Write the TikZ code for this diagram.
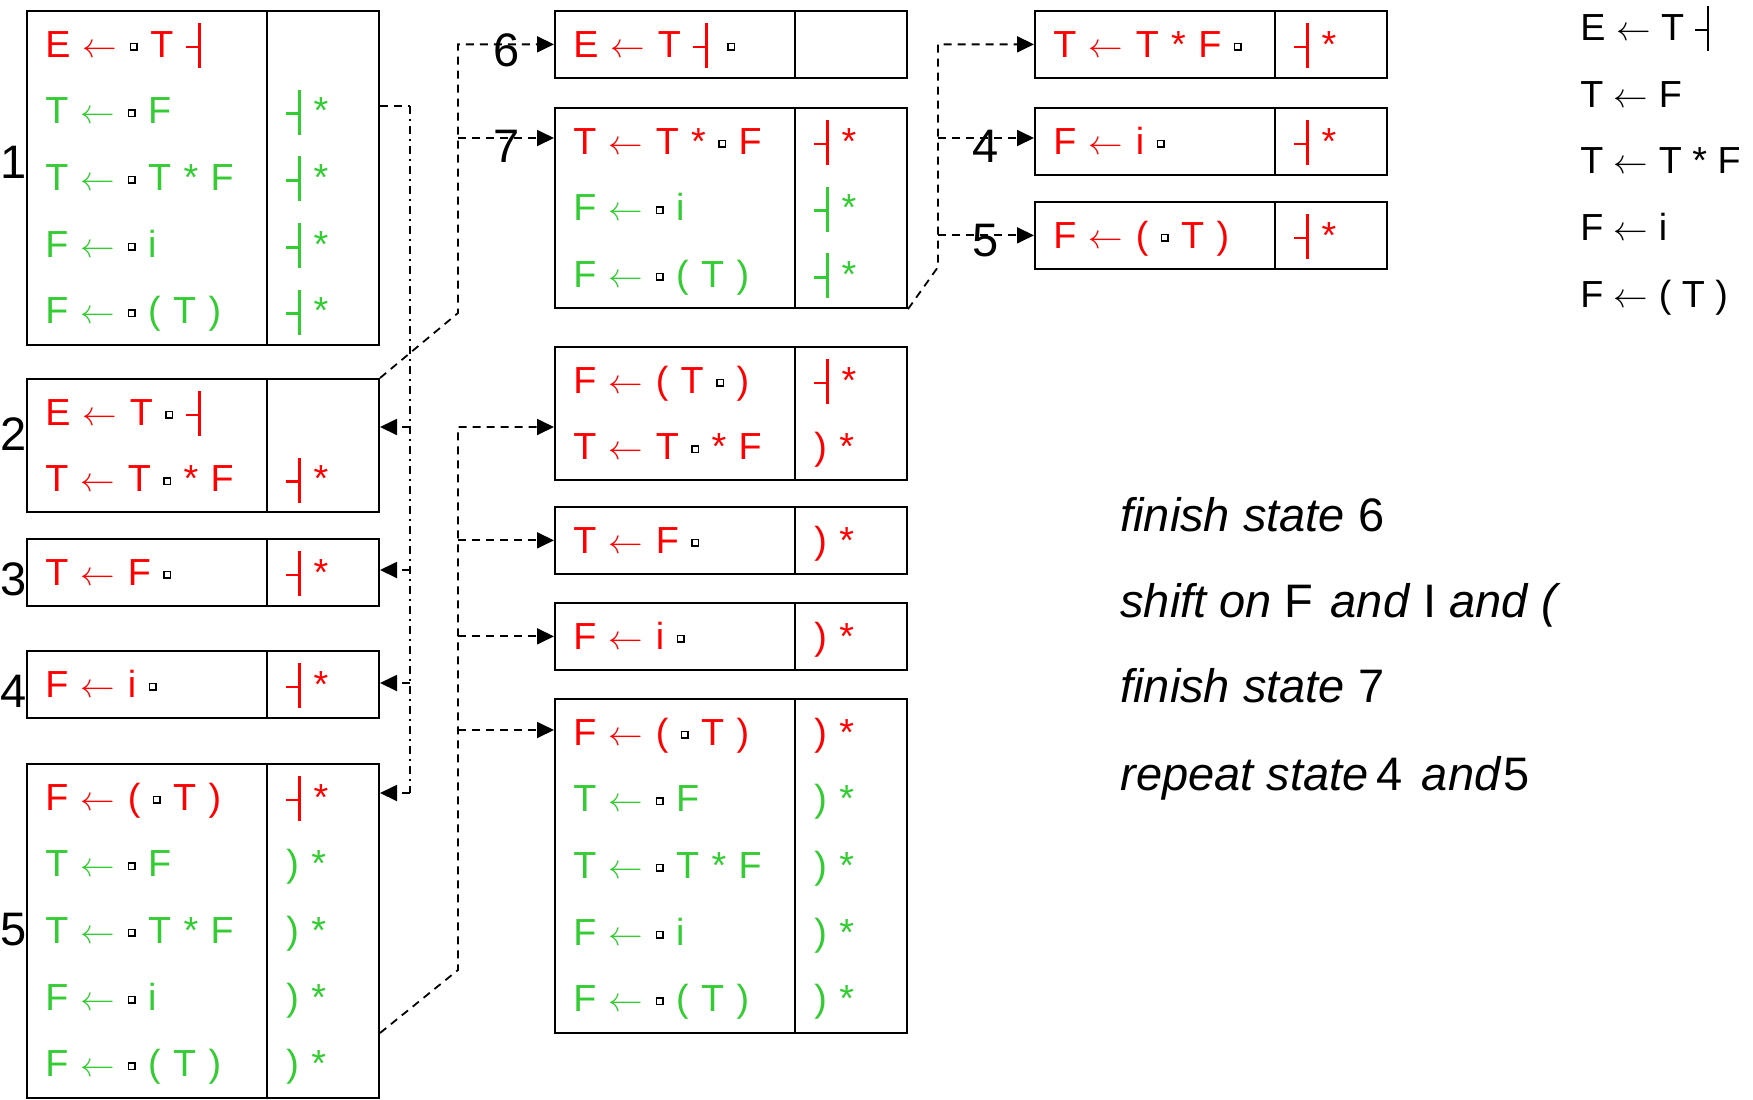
\documentclass[tikz,border=0pt]{standalone}
\usepackage{fontspec}
\setmainfont{Liberation Sans}
\usetikzlibrary{calc,arrows.meta}
\definecolor{itred}{RGB}{255,0,0}
\definecolor{itgreen}{RGB}{51,204,51}
\newcommand{\itemfont}{\fontsize{18.85}{22}\selectfont\spaceskip=6.2pt plus 1pt minus 1pt\relax}
\newcommand{\gramfont}{\fontsize{18.85}{22}\selectfont}
\newcommand{\labfont}{\fontsize{23.5}{28}\selectfont}
\newcommand{\la}{$\leftarrow$}
\newcommand{\eot}{\raisebox{4.3pt}{\rule{6pt}{1.4pt}}\rule[-5.5pt]{1.4pt}{22.5pt}}
\newcommand{\dt}{\raisebox{4pt}{\textcolor{black}{\setlength{\fboxsep}{0pt}\setlength{\fboxrule}{0.75pt}\fbox{\rule{0pt}{2.5pt}\kern2.5pt}}}}
\newcommand{\irow}[5]{%
  \node[itemtxt,text=#3] (#1i#2) at ($(#1.north west)+(19,{47+66.7*#2})$) {#4};
  \node[itemtxt,text=#3] (#1l#2) at ($(#1.north west)+(260,{47+66.7*#2})$) {#5};}
\newcommand{\divider}[1]{\draw[line width=1pt] ($(#1.north west)+(241,0)$) -- ($(#1.south west)+(241,0)$);}
\tikzset{
  sbox/.style={draw, line width=1pt, rectangle, inner sep=0pt, anchor=north west, minimum width=176pt, minimum height=#1*33.35pt},
  itemtxt/.style={anchor=base west, inner sep=0pt, font=\itemfont},
  labtxt/.style={inner sep=0pt, font=\labfont},
  gramtxt/.style={anchor=base west, inner sep=0pt, font=\gramfont},
  notetxt/.style={anchor=base west, inner sep=0pt, font=\labfont},
  conn/.style={line width=0.9pt, dash pattern=on 4pt off 3pt},
  conndd/.style={line width=0.9pt, dash pattern=on 4pt off 2.6pt on 0.8pt off 2.6pt},
  arr/.style={conn, -{Triangle[length=8.5pt,width=8pt]}},
}
\begin{document}
\begin{tikzpicture}[x=0.5pt,y=-0.5pt]
\useasboundingbox (0,0) rectangle (1753,1099);
% boxes
\node[sbox=5] (b1) at (26,10) {};
\node[sbox=2] (b2) at (26,378) {};
\node[sbox=1] (b3) at (26,538) {};
\node[sbox=1] (b4) at (26,650) {};
\node[sbox=5] (b5) at (26,763) {};
\node[sbox=1] (b6) at (554,10) {};
\node[sbox=3] (b7) at (554,107) {};
\node[sbox=2] (b8) at (554,346) {};
\node[sbox=1] (b9) at (554,506) {};
\node[sbox=1] (b10) at (554,602) {};
\node[sbox=5] (b11) at (554,698) {};
\node[sbox=1] (b12) at (1034,10) {};
\node[sbox=1] (b13) at (1034,107) {};
\node[sbox=1] (b14) at (1034,201) {};
\divider{b1}\divider{b2}\divider{b3}\divider{b4}\divider{b5}\divider{b6}\divider{b7}
\divider{b8}\divider{b9}\divider{b10}\divider{b11}\divider{b12}\divider{b13}\divider{b14}
% items
\irow{b1}{0}{itred}{E \la{} \dt{} T \eot}{}
\irow{b1}{1}{itgreen}{T \la{} \dt{} F}{\eot{} *}
\irow{b1}{2}{itgreen}{T \la{} \dt{} T * F}{\eot{} *}
\irow{b1}{3}{itgreen}{F \la{} \dt{} i}{\eot{} *}
\irow{b1}{4}{itgreen}{F \la{} \dt{} ( T )}{\eot{} *}
\irow{b2}{0}{itred}{E \la{} T \dt{} \eot}{}
\irow{b2}{1}{itred}{T \la{} T \dt{} * F}{\eot{} *}
\irow{b3}{0}{itred}{T \la{} F \dt}{\eot{} *}
\irow{b4}{0}{itred}{F \la{} i \dt}{\eot{} *}
\irow{b5}{0}{itred}{F \la{} ( \dt{} T )}{\eot{} *}
\irow{b5}{1}{itgreen}{T \la{} \dt{} F}{) *}
\irow{b5}{2}{itgreen}{T \la{} \dt{} T * F}{) *}
\irow{b5}{3}{itgreen}{F \la{} \dt{} i}{) *}
\irow{b5}{4}{itgreen}{F \la{} \dt{} ( T )}{) *}
\irow{b6}{0}{itred}{E \la{} T \eot{}\kern9.5pt \dt}{}
\irow{b7}{0}{itred}{T \la{} T * \dt{} F}{\eot{} *}
\irow{b7}{1}{itgreen}{F \la{} \dt{} i}{\eot{} *}
\irow{b7}{2}{itgreen}{F \la{} \dt{} ( T )}{\eot{} *}
\irow{b8}{0}{itred}{F \la{} ( T \dt{} )}{\eot{} *}
\irow{b8}{1}{itred}{T \la{} T \dt{} * F}{) *}
\irow{b9}{0}{itred}{T \la{} F \dt}{) *}
\irow{b10}{0}{itred}{F \la{} i \dt}{) *}
\irow{b11}{0}{itred}{F \la{} ( \dt{} T )}{) *}
\irow{b11}{1}{itgreen}{T \la{} \dt{} F}{) *}
\irow{b11}{2}{itgreen}{T \la{} \dt{} T * F}{) *}
\irow{b11}{3}{itgreen}{F \la{} \dt{} i}{) *}
\irow{b11}{4}{itgreen}{F \la{} \dt{} ( T )}{) *}
\irow{b12}{0}{itred}{T \la{} T * F \dt}{\eot{} *}
\irow{b13}{0}{itred}{F \la{} i \dt}{\eot{} *}
\irow{b14}{0}{itred}{F \la{} ( \dt{} T )}{\eot{} *}
% connector from state 1
\coordinate (s1) at ($(b1.north east)+(0,96)$);
\coordinate (v1) at (410,106);
\coordinate (t2) at ($(b2.north east)+(0,49)$);
\coordinate (t3) at ($(b3.north east)+(0,32)$);
\coordinate (t4) at ($(b4.north east)+(0,33)$);
\coordinate (t5) at ($(b5.north east)+(0,30)$);
\draw[conn] (s1) -- (v1);
\draw[conndd] (v1) -- (v1 |- t5);
\draw[arr] (v1 |- t2) -- (t2);
\draw[arr] (v1 |- t3) -- (t3);
\draw[arr] (v1 |- t4) -- (t4);
\draw[arr] (v1 |- t5) -- (t5);
% connector from state 2
\coordinate (k2) at (458,313);
\coordinate (t7) at ($(b7.north west)+(0,31)$);
\draw[arr] (b2.north east) -- (k2) -- (k2 |- b6.west) -- (b6.west);
\draw[arr] (k2 |- t7) -- (t7);
% connector from state 5
\coordinate (s5) at ($(b5.north east)+(0,270)$);
\coordinate (k5) at (458,970);
\coordinate (t8) at ($(b8.north west)+(0,81)$);
\coordinate (t11) at ($(b11.north west)+(0,32)$);
\draw[arr] (s5) -- (k5) -- (k5 |- t8) -- (t8);
\draw[arr] (k5 |- b9.west) -- (b9.west);
\draw[arr] (k5 |- b10.west) -- (b10.west);
\draw[arr] (k5 |- t11) -- (t11);
% connector from state 7
\coordinate (k7) at (938,267);
\coordinate (t13) at ($(b13.north west)+(0,31)$);
\draw[arr] (b7.south east) -- (k7) -- (k7 |- b12.west) -- (b12.west);
\draw[arr] (k7 |- t13) -- (t13);
\draw[arr] (k7 |- b14.west) -- (b14.west);
% state labels
\node[labtxt,anchor=west] (l1) at (0,162) {1};
\node[labtxt,anchor=west] (l2) at (0,434) {2};
\node[labtxt,anchor=west] (l3) at (0,579) {3};
\node[labtxt,anchor=west] (l4) at (0,691) {4};
\node[labtxt,anchor=west] (l5) at (0,930) {5};
\node[labtxt] (l6) at (507,50) {6};
\node[labtxt] (l7) at (507,146) {7};
\node[labtxt] (l4b) at (986,146) {4};
\node[labtxt] (l5b) at (986,241) {5};
% grammar
\node[gramtxt] (g1) at (1580,40) {E \la{} T \eot};
\node[gramtxt] (g2) at (1580,107) {T \la{} F};
\node[gramtxt] (g3) at (1580,173) {T \la{} T * F};
\node[gramtxt] (g4) at (1580,240) {F \la{} i};
\node[gramtxt] (g5) at (1580,307) {F \la{} ( T )};
% notes
\node[notetxt] (n1) at (1120,531) {\textit{finish state} 6};
\node[notetxt] (n2) at (1120,617) {\textit{shift on} F\kern2pt\ \textit{and} I \textit{and (}};
\node[notetxt] (n3) at (1120,702) {\textit{finish state} 7};
\node[notetxt] (n4) at (1120,790) {\textit{repeat state}\kern-2.5pt\ 4\kern3pt\ \textit{and}\kern1pt 5};
\end{tikzpicture}
\end{document}
